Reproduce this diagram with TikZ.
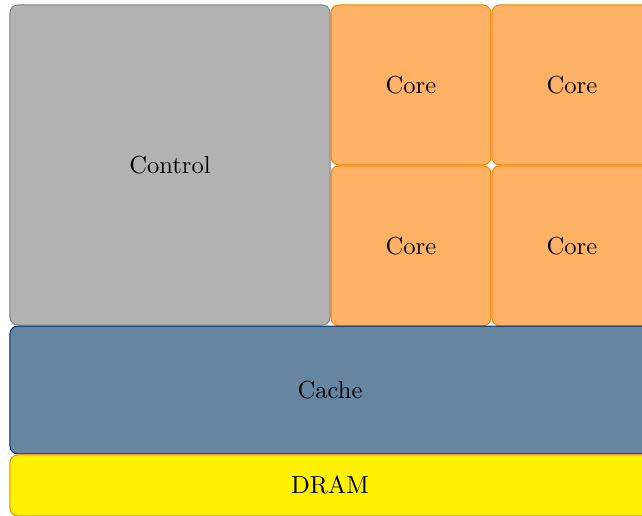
\documentclass[tikz,border=0pt]{standalone}
\usetikzlibrary{positioning}
\definecolor{cachefill}{RGB}{101,133,161}
\definecolor{cacheline}{RGB}{0,45,110}
\begin{document}
\begin{tikzpicture}[x=0.4065pt, y=-0.4065pt,
    blk/.style={rectangle, rounded corners=3.2pt, line width=0.4pt, inner sep=0pt},
    ctrlbox/.style={blk, draw=black!50, fill=gray!60, minimum width=130.1pt, minimum height=130.1pt},
    corebox/.style={blk, draw=orange, fill=orange!60, minimum width=65pt, minimum height=65pt},
    cachebox/.style={blk, draw=cacheline, fill=cachefill, minimum width=260.2pt, minimum height=52pt},
    drambox/.style={blk, draw=orange, fill=yellow, minimum width=260.2pt, minimum height=24.8pt}]
  \useasboundingbox (0,0) rectangle (642,515);
  % processor
  \node[ctrlbox] (ctrl) at (170,165) {Control};
  \node[corebox, anchor=north west] (core1) at (ctrl.north east) {Core};
  \node[corebox, right=0pt of core1] (core2) {Core};
  \node[corebox, below=0pt of core1] (core3) {Core};
  \node[corebox, right=0pt of core3] (core4) {Core};
  % memory
  \node[cachebox, anchor=north west] (cache) at (ctrl.south west) {Cache};
  \node[drambox, below=0pt of cache] (dram) {DRAM};
\end{tikzpicture}
\end{document}
